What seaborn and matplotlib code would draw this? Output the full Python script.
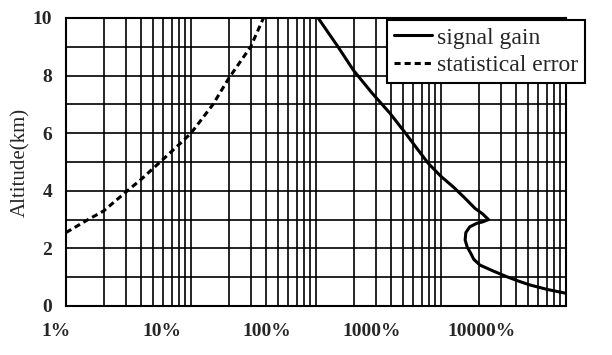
import numpy as np
import pandas as pd
import matplotlib
matplotlib.use("Agg")
import matplotlib.pyplot as plt
import matplotlib.ticker as mticker
from matplotlib.transforms import ScaledTranslation
import seaborn as sns

# valores (x em %, altitude em km)
ganho_pct = [104, 150, 199, 280, 391, 520, 655, 792, 1000, 1250, 1550, 1870,
             2150, 2400, 2150, 1930, 1700, 1580, 1560, 1620, 1720, 1830, 2050,
             2600, 3350, 4200, 5150, 7000, 10000]
ganho_alt = [10, 9.0, 8.19, 7.4, 6.69, 6.0, 5.42, 4.95, 4.5, 4.14, 3.75, 3.39,
             3.2, 3.0, 2.92, 2.87, 2.75, 2.55, 2.29, 2.05, 1.85, 1.62, 1.42,
             1.22, 1.02, 0.86, 0.73, 0.58, 0.44]

erro_pct = [1, 1.5, 2, 3, 4, 6, 8, 10, 15, 20, 30, 38]
erro_alt = [2.55, 3.0, 3.3, 3.95, 4.4, 5.1, 5.6, 6.0, 7.0, 7.9, 9.0, 10.0]

x_ticks = [1, 10, 100, 1000, 10000]
x_labels = ['1%', '10%', '100%', '1000%', '10000%']
y_ticks = [0, 2, 4, 6, 8, 10]

ganho = pd.DataFrame({'pct': ganho_pct, 'alt': ganho_alt})
erro = pd.DataFrame({'pct': erro_pct, 'alt': erro_alt})

sns.set_style("white")
plt.rcParams['font.family'] = ['Liberation Serif', 'DejaVu Serif']

fig = plt.figure(figsize=(6.12, 3.55), dpi=100)
ax = fig.add_axes([66/612, 1-306/355, 500/612, 288/355])

sns.lineplot(data=ganho, x='pct', y='alt', sort=False, estimator=None,
             color='black', lw=2.2, ax=ax, label='signal gain')
sns.lineplot(data=erro, x='pct', y='alt', sort=False, estimator=None,
             color='black', lw=2.2, linestyle=(0, (2, 1.3)), ax=ax,
             label='statistical error')

ax.set_xscale('log')
ax.set_xlim(1, 10000)
ax.set_ylim(0, 10)
ax.set_xticks(x_ticks)
ax.set_xticklabels(x_labels)
ax.xaxis.set_minor_locator(mticker.LogLocator(base=10, subs=np.arange(2, 10)))
ax.xaxis.set_minor_formatter(mticker.NullFormatter())
ax.set_yticks(y_ticks)
ax.yaxis.set_minor_locator(mticker.MultipleLocator(1))
ax.grid(which='both', color='black', lw=1.2)
ax.tick_params(which='both', length=0)
ax.tick_params(axis='x', pad=12, labelsize=14)
ax.tick_params(axis='y', pad=10, labelsize=14)
for lab in ax.get_xticklabels() + ax.get_yticklabels():
    lab.set_fontweight('bold')

# rótulos do eixo x ficam deslocados para a esquerda no original
deslocs = [-10, -29, -49, -69, -84]
for lab, d in zip(ax.get_xticklabels(), deslocs):
    lab.set_transform(lab.get_transform() + ScaledTranslation(d/100, 0, fig.dpi_scale_trans))

for s in ['left', 'right']:
    ax.spines[s].set_linestyle((0, (1, 1)))
for s in ax.spines.values():
    s.set_color('black')
    s.set_linewidth(1.5)

ax.set_xlabel('')
ax.set_ylabel('Altitude(km)', fontsize=15, labelpad=2)

leg = ax.legend(loc='upper right', bbox_to_anchor=(585/612, 1-20/355),
                bbox_transform=fig.transFigure, fontsize=17, frameon=True,
                fancybox=False, edgecolor='black', framealpha=1,
                handlelength=1.6, handletextpad=0.2, borderpad=0.3,
                labelspacing=0.25, borderaxespad=0)
leg.get_frame().set_linewidth(1.5)

fig.savefig("out.png", dpi=100)
